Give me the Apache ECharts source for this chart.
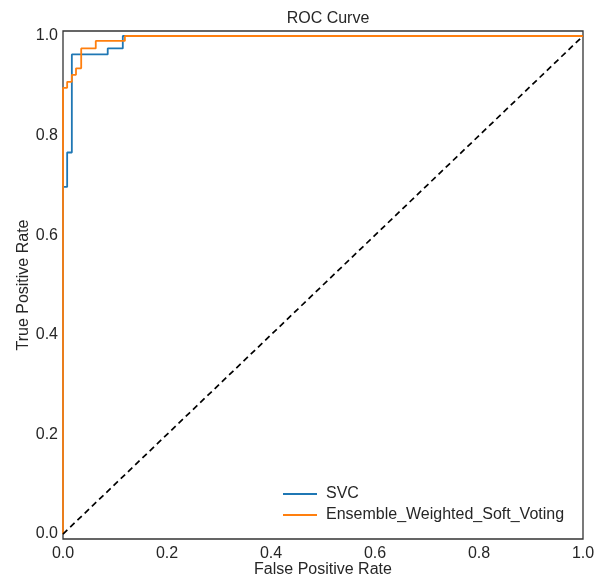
<!DOCTYPE html>
<html>
<head>
<meta charset="utf-8">
<script src="https://cdn.jsdelivr.net/npm/echarts@6/dist/echarts.min.js"></script>
<style>html,body{margin:0;padding:0;background:#fff}#c{width:608px;height:578px}</style>
</head>
<body>
<div id="c"></div>
<script>
var svcFpr = [0, 0, 0.008, 0.017, 0.086, 0.115, 1.0];
var svcTpr = [0, 0.697, 0.766, 0.963, 0.975, 1.0, 1.0];
var ensFpr = [0, 0, 0.008, 0.017, 0.025, 0.035, 0.063, 0.119, 1.0];
var ensTpr = [0, 0.896, 0.908, 0.922, 0.935, 0.975, 0.990, 1.0, 1.0];
var diagX = [0, 1];
var diagY = [0, 1];
var tickLabels = [0, 0.2, 0.4, 0.6, 0.8, 1.0];
var seriesNames = ['SVC', 'Ensemble_Weighted_Soft_Voting'];

function zip(a, b) { return a.map(function (v, i) { return [v, b[i]]; }); }
var font = 'Liberation Sans, Arial, sans-serif';
var txt = '#262626';
var fs = 16;
var chart = echarts.init(document.getElementById('c'));
chart.setOption({
  animation: false,
  backgroundColor: '#fff',
  title: { text: 'ROC Curve', left: 323, top: 6, textAlign: 'center',
    textStyle: { fontFamily: font, fontSize: fs, fontWeight: 'normal', color: txt } },
  grid: { left: 63, right: 25, top: 31, bottom: 39, outerBoundsMode: 'none', containLabel: false,
    show: true, borderColor: '#333', borderWidth: 1.3, backgroundColor: 'transparent' },
  legend: {
    data: seriesNames, orient: 'vertical', left: 278, top: 481, itemGap: 5,
    icon: 'rect', itemWidth: 34, itemHeight: 2,
    textStyle: { fontFamily: font, fontSize: fs, color: txt, padding: [0, 0, 0, 4] }
  },
  xAxis: {
    type: 'value', min: 0, max: 1, interval: 0.2,
    name: 'False Positive Rate', nameLocation: 'middle', nameGap: 23, nameMoveOverlap: false,
    nameTextStyle: { fontFamily: font, fontSize: fs, color: txt },
    axisLine: { show: false }, axisTick: { show: false }, splitLine: { show: false },
    axisLabel: { fontFamily: font, fontSize: fs, color: txt, margin: 7,
      formatter: function (v) { return v.toFixed(1); } }
  },
  yAxis: {
    type: 'value', min: -0.01, max: 1.01,
    name: 'True Positive Rate', nameLocation: 'middle', nameGap: 31, nameRotate: 90, nameMoveOverlap: false,
    nameTextStyle: { fontFamily: font, fontSize: fs, color: txt },
    axisLine: { show: false }, axisTick: { show: false }, splitLine: { show: false },
    axisLabel: { fontFamily: font, fontSize: fs, color: txt, margin: 5, customValues: tickLabels,
      formatter: function (v) { return v.toFixed(1); } }
  },
  series: [
    { name: seriesNames[0], type: 'line', step: 'end', data: zip(svcFpr, svcTpr), showSymbol: false, symbol: 'none',
      lineStyle: { color: '#1f77b4', width: 1.8 }, itemStyle: { color: '#1f77b4' } },
    { name: seriesNames[1], type: 'line', step: 'end', data: zip(ensFpr, ensTpr), showSymbol: false, symbol: 'none',
      lineStyle: { color: '#ff7f0e', width: 1.8 }, itemStyle: { color: '#ff7f0e' } },
    { name: 'diag', type: 'line', data: zip(diagX, diagY), showSymbol: false, symbol: 'none',
      lineStyle: { color: '#000', width: 1.7, type: [6, 4] } }
  ]
});
</script>
</body>
</html>
